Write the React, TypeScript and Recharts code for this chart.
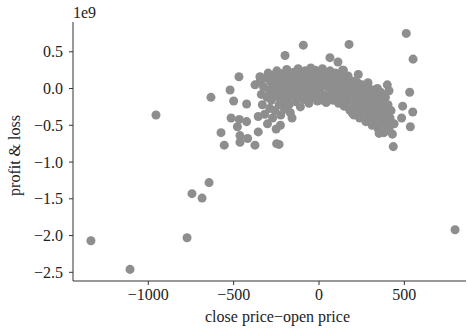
import { ScatterChart, Scatter, XAxis, YAxis, Label } from 'recharts'

// [close price − open price, profit & loss in units of 1e9]
const farTrades: [number, number][] = [
  [-1336, -2.07], [-1107, -2.46], [-955, -0.36], [-773, -2.03], [-744, -1.43],
  [-685, -1.49], [-644, -1.28], [-633, -0.12], [797, -1.92], [511, 0.75],
  [551, 0.4], [176, 0.6], [-199, 0.45], [-92, 0.59], [64, 0.42], [111, 0.36],
]

const leftTrades: [number, number][] = [
  [-574, -0.6], [-555, -0.77], [-521, -0.02], [-500, -0.17], [-469, 0.16],
  [-463, -0.64], [-463, -0.73], [-467, -0.42], [-478, -0.52], [-515, -0.4],
  [-424, -0.21], [-424, -0.45], [-418, -0.68], [-375, 0.05], [-346, 0.16],
  [-356, -0.38], [-356, -0.59], [-375, -0.77], [-248, -0.75], [-234, -0.76],
  [-226, -0.5], [-168, -0.33], [-199, -0.1],
  [-345, 0.1], [-338, -0.08], [-332, -0.22], [-325, 0.02], [-318, -0.35],
  [-312, 0.14], [-305, -0.12], [-302, -0.48],
  [-298, 0.21], [-292, -0.02], [-288, -0.27], [-283, 0.09], [-279, -0.16],
  [-272, -0.4], [-268, 0.18], [-263, -0.06], [-258, -0.3], [-254, 0.03], [-251, -0.55],
  [-247, 0.24], [-243, -0.11], [-238, 0.12], [-233, -0.22], [-229, 0.0],
  [-224, -0.36], [-219, 0.2], [-214, -0.08], [-210, 0.07], [-206, -0.18], [-202, -0.28],
]

const coreTrades: [number, number][] = [
  [-197, 0.16], [-193, -0.03], [-189, 0.26], [-184, -0.14], [-180, 0.05], [-176, -0.22],
  [-171, 0.11], [-167, -0.07], [-162, 0.19], [-158, -0.4], [-153, 0.0],
  [-148, 0.22], [-144, -0.1], [-140, 0.08], [-136, -0.18], [-131, 0.15], [-127, -0.02],
  [-122, 0.27], [-118, -0.13], [-113, 0.04], [-109, -0.25], [-104, 0.12],
  [-98, 0.2], [-94, -0.05], [-90, 0.09], [-86, -0.15], [-81, 0.24], [-77, 0.01],
  [-72, 0.14], [-68, -0.1], [-63, 0.06], [-59, -0.2], [-54, 0.17],
  [-48, 0.28], [-44, -0.03], [-40, 0.1], [-35, -0.12], [-31, 0.19], [-27, 0.04],
  [-22, 0.25], [-18, -0.08], [-13, 0.13], [-9, -0.17], [-4, 0.07],
  [2, 0.22], [6, -0.02], [11, 0.11], [15, -0.14], [20, 0.27], [24, 0.05],
  [29, 0.16], [33, -0.09], [38, 0.08], [42, -0.19], [47, 0.2], [23, -0.16], [29, -0.13],
  [52, 0.02], [56, 0.14], [61, -0.11], [65, 0.24], [70, 0.06], [74, -0.05],
  [79, 0.18], [83, -0.16], [88, 0.1], [92, -0.01], [97, 0.21],
  [102, -0.08], [106, 0.13], [111, 0.03], [115, -0.2], [120, 0.19], [124, -0.03],
  [129, 0.09], [133, -0.14], [138, 0.25], [142, 0.0], [147, -0.24], [143, 0.25],
  [152, 0.12], [156, -0.07], [161, 0.05], [165, -0.18], [170, 0.17], [174, -0.02],
  [179, -0.28], [183, 0.08], [188, -0.12], [192, 0.02], [197, -0.34],
]

const rightTrades: [number, number][] = [
  [202, 0.1], [206, -0.1], [211, -0.22], [215, 0.04], [220, -0.04], [224, -0.3],
  [229, 0.07], [233, -0.16], [238, -0.4], [242, -0.06], [247, -0.25], [230, 0.19],
  [252, 0.05], [256, -0.12], [261, -0.33], [265, -0.02], [270, -0.2], [274, -0.45],
  [279, -0.08], [283, -0.28], [288, 0.02], [292, -0.15], [297, -0.38], [287, 0.08],
  [302, -0.05], [307, -0.24], [311, -0.5], [316, -0.12], [320, -0.32], [325, -0.02],
  [329, -0.2], [334, -0.42], [338, -0.1], [343, -0.28], [347, -0.55], [342, 0.0],
  [352, -0.15], [357, -0.35], [361, -0.05], [366, -0.25], [370, -0.45], [375, -0.18],
  [380, -0.6], [384, -0.3], [389, -0.12], [393, -0.5], [398, -0.38],
  [404, -0.22], [410, -0.55], [416, -0.4], [422, -0.3], [430, -0.62], [440, -0.48],
  [400, 0.05], [410, -0.03], [357, -0.18], [387, -0.23], [318, -0.47], [299, -0.41],
  [201, -0.34], [182, -0.3], [309, -0.43], [348, -0.48], [205, -0.36], [352, -0.61],
  [416, -0.44], [435, -0.79], [484, -0.4], [490, -0.24], [531, -0.05], [549, -0.32],
  [535, -0.52],
]

const xTicks = [-1000, -500, 0, 500]
const yTicks = [-2.5, -2.0, -1.5, -1.0, -0.5, 0.0, 0.5]

const data = [...farTrades, ...leftTrades, ...coreTrades, ...rightTrades].map(([diff, pnl]) => ({ diff, pnl }))

const fontFamily = '"Liberation Serif", "DejaVu Serif", serif'
const ink = '#222'
const fs = 16
const minus = (s: string) => s.replace('-', '\u2212')

export default function App() {
  return (
    <div style={{ position: 'absolute', left: 0, top: 0 }}>
      <ScatterChart width={468} height={330} margin={{ top: 22, right: 2, left: 0, bottom: 0 }}>
        <XAxis
          type="number"
          dataKey="diff"
          domain={[-1441, 861]}
          ticks={xTicks}
          allowDataOverflow
          height={49}
          tickSize={4}
          tickMargin={4}
          stroke="#333"
          tick={{ fill: ink, fontSize: fs, fontFamily }}
          tickFormatter={(v: number) => minus(String(v))}
        >
          <Label
            content={({ viewBox }: any) => (
              <text
                x={viewBox.x + viewBox.width / 2 + 8}
                y={viewBox.y + viewBox.height - 8}
                textAnchor="middle"
                fill={ink}
                fontSize={fs}
                fontFamily={fontFamily}
              >
                close price{'\u2212'}open price
              </text>
            )}
          />
        </XAxis>
        <YAxis
          type="number"
          dataKey="pnl"
          domain={[-2.618, 0.905]}
          ticks={yTicks}
          allowDataOverflow
          width={73}
          tickSize={4}
          tickMargin={6}
          stroke="#333"
          tick={{ fill: ink, fontSize: fs, fontFamily }}
          tickFormatter={(v: number) => minus(v.toFixed(1))}
        >
          <Label
            content={({ viewBox }: any) => (
              <g>
                <text
                  x={viewBox.x + viewBox.width}
                  y={viewBox.y - 4}
                  fill={ink}
                  fontSize={fs}
                  fontFamily={fontFamily}
                >
                  1e9
                </text>
                <text
                  transform={`translate(${viewBox.x + 20}, ${viewBox.y + viewBox.height / 2 + 4}) rotate(-90)`}
                  textAnchor="middle"
                  fill={ink}
                  fontSize={fs}
                  fontFamily={fontFamily}
                >
                  profit &amp; loss
                </text>
              </g>
            )}
          />
        </YAxis>
        <Scatter data={data} fill="#8e8e8e" isAnimationActive={false} />
      </ScatterChart>
    </div>
  )
}
